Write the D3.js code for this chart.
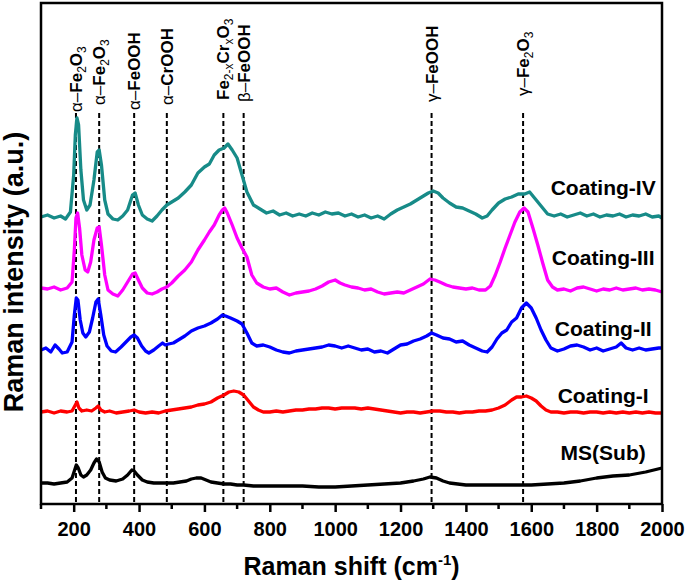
<!DOCTYPE html>
<html>
<head>
<meta charset="utf-8">
<script src="https://cdn.jsdelivr.net/npm/d3@7"></script>
<style>
  body { margin: 0; background: #fff; }
  svg text { font-family: Arial, "Liberation Sans", sans-serif; }
</style>
</head>
<body>
<svg width="685" height="583"></svg>
<script>
// Raman shift (cm-1) vs intensity (a.u.), curves already offset as plotted
var seriesNames = ["Coating-IV", "Coating-III", "Coating-II", "Coating-I", "MS(Sub)"];
var seriesColors = ["#178b88", "#ff00ff", "#0000ff", "#ff0000", "#000000"];

var coatingIV = [[100,287],[120,289],[140,286],[160,288],[175,285],[190,292],[200,329],[205,369],[210,386],[215,379],[222,334],[230,304],[240,294],[250,299],[262,324],[272,352],[278,354],[285,339],[295,304],[305,290],[320,285],[335,284],[350,288],[365,294],[380,309],[388,311],[398,299],[410,289],[425,285],[440,283],[455,288],[470,294],[485,299],[500,302],[520,306],[540,312],[560,319],[580,331],[600,337],[615,340],[630,349],[645,354],[660,356],[672,360],[685,354],[700,346],[715,329],[730,312],[750,299],[770,295],[790,291],[810,293],[830,289],[850,291],[870,288],[890,290],[910,288],[930,291],[950,289],[970,292],[990,290],[1010,291],[1030,288],[1050,290],[1070,287],[1090,289],[1110,286],[1130,288],[1150,285],[1170,290],[1190,294],[1210,297],[1230,300],[1250,304],[1270,308],[1285,311],[1300,313],[1315,311],[1330,306],[1350,301],[1370,297],[1390,296],[1410,293],[1430,290],[1450,286],[1465,288],[1480,294],[1500,301],[1520,305],[1540,307],[1560,310],[1580,310],[1595,312],[1610,306],[1630,298],[1650,290],[1670,288],[1690,290],[1710,287],[1730,289],[1750,291],[1770,288],[1790,290],[1810,287],[1830,289],[1850,288],[1870,290],[1890,287],[1910,289],[1930,288],[1950,290],[1970,287],[1990,288],[2000,286]];

var coatingIII = [[100,216],[120,215],[140,217],[160,214],[180,216],[195,222],[202,254],[207,286],[212,291],[218,276],[225,249],[235,234],[243,232],[252,242],[262,264],[272,276],[278,277],[285,259],[295,229],[305,214],[320,210],[335,208],[350,214],[365,222],[380,230],[388,231],[398,224],[410,216],[425,211],[440,210],[455,212],[470,215],[485,217],[500,221],[520,228],[540,234],[560,242],[580,254],[600,264],[615,272],[630,279],[645,289],[655,294],[662,296],[670,291],[685,279],[700,266],[715,256],[730,247],[745,229],[760,221],[780,217],[800,215],[820,216],[840,212],[860,209],[880,211],[900,212],[920,213],[940,215],[960,218],[980,222],[1000,224],[1015,221],[1030,219],[1050,217],[1070,216],[1090,214],[1110,215],[1130,212],[1150,210],[1170,211],[1190,212],[1210,211],[1230,214],[1250,217],[1270,220],[1290,225],[1305,224],[1320,222],[1340,219],[1360,217],[1380,216],[1400,215],[1420,216],[1440,214],[1460,214],[1475,218],[1490,229],[1505,242],[1520,256],[1535,269],[1550,282],[1565,292],[1578,296],[1590,292],[1605,276],[1620,259],[1635,241],[1650,224],[1665,217],[1680,214],[1700,215],[1720,213],[1740,216],[1760,217],[1780,215],[1800,213],[1820,215],[1840,214],[1860,216],[1880,214],[1900,215],[1920,216],[1940,214],[1960,215],[1980,214],[2000,212]];

var coatingII = [[100,154],[115,156],[130,152],[143,159],[155,155],[165,151],[180,152],[195,162],[202,189],[208,206],[213,204],[220,184],[228,171],[237,167],[248,172],[258,186],[268,202],[275,205],[283,189],[292,169],[302,158],[315,153],[328,152],[345,157],[360,162],[375,167],[385,169],[395,166],[408,158],[420,153],[430,151],[445,154],[460,158],[472,161],[480,159],[490,160],[505,161],[520,164],[540,168],[560,173],[580,176],[600,178],[620,181],[640,185],[655,189],[665,188],[680,186],[700,183],[715,180],[730,171],[745,161],[760,158],[780,159],[800,157],[820,154],[840,152],[860,151],[880,153],[900,154],[920,155],[940,156],[960,157],[980,159],[1000,158],[1020,156],[1040,158],[1060,156],[1080,154],[1100,155],[1120,152],[1140,153],[1160,151],[1180,155],[1200,159],[1220,160],[1240,163],[1260,165],[1280,168],[1295,171],[1310,169],[1330,166],[1350,165],[1370,162],[1390,163],[1410,159],[1430,156],[1450,153],[1465,152],[1480,157],[1495,165],[1510,171],[1525,174],[1540,182],[1555,186],[1570,196],[1585,201],[1600,196],[1615,186],[1630,174],[1645,164],[1660,156],[1680,153],[1700,155],[1720,158],[1740,159],[1760,157],[1780,154],[1800,156],[1820,153],[1840,155],[1860,157],[1875,161],[1890,156],[1910,154],[1930,156],[1950,154],[1970,155],[1990,156],[2000,156]];

var coatingI = [[100,92],[120,93],[140,91],[160,93],[180,92],[195,93],[205,99],[210,102],[216,96],[225,93],[240,94],[255,93],[268,96],[275,98],[283,94],[295,92],[310,93],[330,91],[350,92],[370,93],[385,94],[400,92],[420,91],[440,92],[460,91],[480,93],[500,94],[520,95],[540,96],[560,97],[580,99],[600,100],[620,102],[640,106],[660,109],[675,112],[690,113],[705,112],[720,109],[735,103],[750,97],[765,94],[780,92],[800,92],[820,93],[840,92],[860,93],[880,94],[900,94],[920,95],[940,95],[960,96],[980,96],[1000,95],[1020,96],[1040,96],[1060,96],[1080,95],[1100,96],[1120,95],[1140,94],[1160,93],[1180,92],[1200,91],[1220,92],[1240,92],[1260,91],[1280,92],[1300,93],[1320,93],[1340,92],[1360,92],[1380,91],[1400,92],[1420,92],[1440,93],[1460,93],[1480,94],[1500,96],[1520,99],[1540,104],[1555,107],[1570,107],[1585,108],[1600,106],[1615,103],[1630,98],[1645,94],[1660,92],[1680,92],[1700,91],[1720,92],[1740,92],[1760,91],[1780,92],[1800,92],[1820,91],[1840,92],[1860,91],[1880,92],[1900,91],[1920,92],[1940,91],[1960,92],[1980,91],[2000,91]];

var msSub = [[100,21],[120,21],[140,20],[160,21],[180,22],[195,26],[203,34],[208,39],[214,36],[222,29],[230,27],[240,29],[252,34],[262,41],[270,45],[278,42],[287,32],[297,26],[310,24],[330,23],[350,25],[365,29],[378,34],[385,33],[395,29],[410,24],[425,22],[445,21],[465,21],[485,21],[505,21],[525,22],[545,23],[560,25],[575,26],[590,26],[605,24],[620,22],[640,21],[660,20],[680,20],[700,19],[720,19],[750,18],[800,18],[850,18],[900,18],[950,17],[1000,17],[1050,18],[1100,19],[1150,20],[1200,21],[1240,23],[1270,25],[1290,27],[1310,26],[1330,23],[1350,21],[1400,19],[1450,19],[1500,19],[1550,19],[1600,19],[1650,20],[1700,21],[1750,23],[1800,26],[1850,28],[1900,29],[1950,32],[2000,36]];

var allSeries = [coatingIV, coatingIII, coatingII, coatingI, msSub];
// where each name label sits (Raman shift, intensity)
var labelPos = [[1820, 309], [1820, 239], [1820, 168], [1820, 101], [1820, 44]];

// assigned bands
var peakShifts = [207, 278, 385, 485, 658, 720, 1295, 1575];
var peakLabels = [
  [["α–", "g"], ["Fe"], ["2", "s"], ["O"], ["3", "s"]],
  [["α–", "g"], ["Fe"], ["2", "s"], ["O"], ["3", "s"]],
  [["α–", "g"], ["FeOOH"]],
  [["α–", "g"], ["CrOOH"]],
  [["Fe"], ["2-x", "s"], ["Cr"], ["x", "s"], ["O"], ["3", "s"]],
  [["β–", "g"], ["FeOOH"]],
  [["γ–", "g"], ["FeOOH"]],
  [["γ–", "g"], ["Fe"], ["2", "s"], ["O"], ["3", "s"]]
];
var peakLabelBase = [112, 105, 110, 105, 100, 102, 102, 96];

var majorTicks = [200, 400, 600, 800, 1000, 1200, 1400, 1600, 1800, 2000];
var minorTicks = [100, 300, 500, 700, 900, 1100, 1300, 1500, 1700, 1900];

var svg = d3.select("svg"),
  margin = { top: 3, right: 23, bottom: 79, left: 41 },
  width = +svg.attr("width") - margin.left - margin.right,
  height = +svg.attr("height") - margin.top - margin.bottom;

var x = d3.scaleLinear().domain([100, 2000]).range([0, width]);
var y = d3.scaleLinear().domain([0, 501]).range([height, 0]);

var g = svg.append("g")
  .attr("transform", "translate(" + margin.left + "," + margin.top + ")");

// dashed band markers
g.selectAll(".band")
  .data(peakShifts)
  .enter()
  .append("line")
  .attr("class", "band")
  .attr("x1", d => x(d)).attr("x2", d => x(d))
  .attr("y1", 110).attr("y2", height)
  .attr("stroke", "#000")
  .attr("stroke-width", 2)
  .attr("stroke-dasharray", "5,3");

var line = d3.line()
  .x(d => x(d[0]))
  .y(d => y(d[1]));

g.selectAll(".spec")
  .data(allSeries)
  .enter()
  .append("path")
  .attr("class", "spec")
  .attr("d", line)
  .attr("fill", "none")
  .attr("stroke", (d, i) => seriesColors[i])
  .attr("stroke-width", 3.3)
  .attr("stroke-linejoin", "round");

// series names
g.selectAll(".name")
  .data(seriesNames)
  .enter()
  .append("text")
  .attr("x", (d, i) => x(labelPos[i][0]))
  .attr("y", (d, i) => y(labelPos[i][1]))
  .attr("text-anchor", "middle")
  .attr("font-size", "21px")
  .attr("font-weight", "bold")
  .text(d => d);

// band labels, rotated
var pl = g.selectAll(".plabel")
  .data(peakLabels)
  .enter()
  .append("text")
  .attr("class", "plabel")
  .attr("transform", (d, i) => "translate(" + (x(peakShifts[i]) + 6) + "," + (peakLabelBase[i] - margin.top) + ") rotate(-90)")
  .attr("font-size", "17px");

pl.each(function(parts) {
  var t = d3.select(this);
  var shifted = false;
  parts.forEach(function(p) {
    var ts = t.append("tspan").text(p[0]);
    if (p[1] === "s") {
      ts.attr("font-size", "12px").attr("font-weight", "normal");
      if (!shifted) { ts.attr("dy", 4); shifted = true; }
    } else {
      if (shifted) { ts.attr("dy", -4); shifted = false; }
      ts.attr("font-weight", p[1] === "g" ? "normal" : "bold");
    }
  });
});

// frame
g.append("rect")
  .attr("width", width)
  .attr("height", height)
  .attr("fill", "none")
  .attr("stroke", "#000")
  .attr("stroke-width", 2.5);

// x axis
var xAxis = g.append("g")
  .attr("transform", "translate(0," + height + ")")
  .call(d3.axisBottom(x).tickValues(majorTicks).tickSize(8).tickPadding(10).tickFormat(d3.format("d")));
xAxis.select(".domain").remove();
xAxis.selectAll("line").attr("stroke-width", 2.5);
xAxis.selectAll("text")
  .attr("font-size", "20px")
  .attr("font-weight", "bold")
  .attr("font-family", "Arial, 'Liberation Sans', sans-serif")
  .attr("fill", "#000");

g.append("g")
  .attr("transform", "translate(0," + height + ")")
  .selectAll("line")
  .data(minorTicks)
  .enter()
  .append("line")
  .attr("x1", d => x(d)).attr("x2", d => x(d))
  .attr("y1", 0).attr("y2", 5)
  .attr("stroke", "#000")
  .attr("stroke-width", 2.5);

// axis titles
var xt = svg.append("text")
  .attr("x", margin.left + width / 2)
  .attr("y", 575)
  .attr("text-anchor", "middle")
  .attr("font-size", "25px")
  .attr("font-weight", "bold");
xt.append("tspan").text("Raman shift (cm");
xt.append("tspan").attr("font-size", "15px").attr("dy", -10).text("-1");
xt.append("tspan").attr("dy", 10).text(")");

svg.append("text")
  .attr("transform", "translate(23,272) rotate(-90)")
  .attr("text-anchor", "middle")
  .attr("font-size", "27px")
  .attr("font-weight", "bold")
  .text("Raman intensity (a.u.)");
</script>
</body>
</html>
